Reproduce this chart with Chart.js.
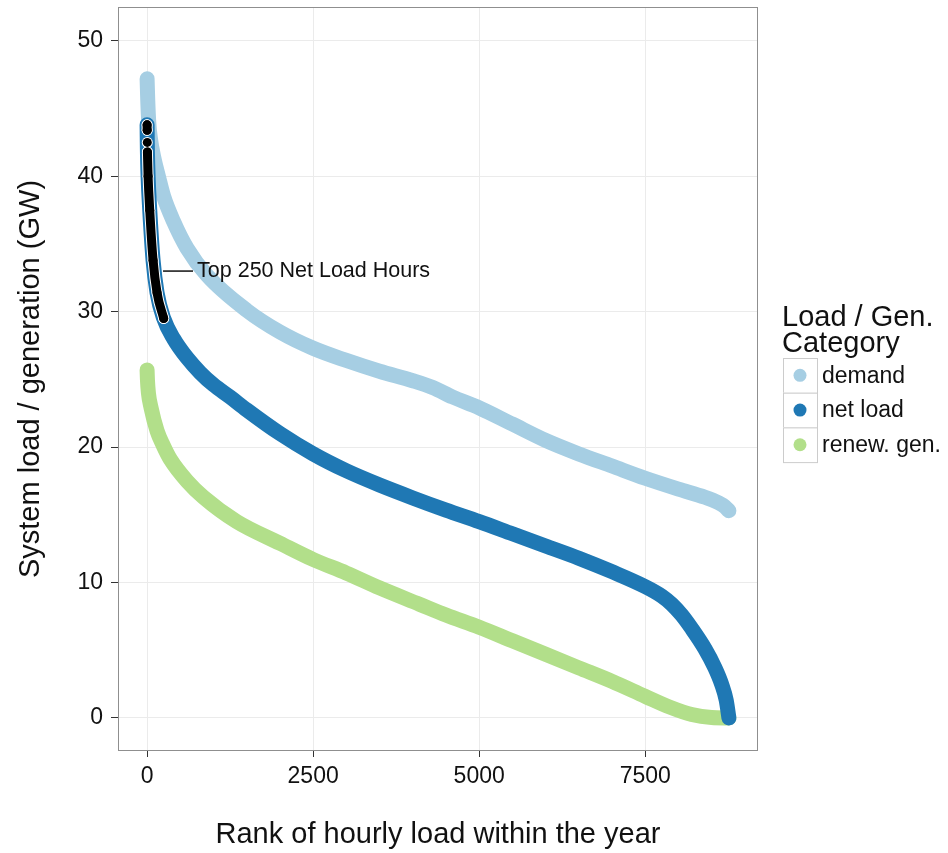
<!DOCTYPE html>
<html><head><meta charset="utf-8">
<script src="https://cdn.jsdelivr.net/npm/chart.js@4"></script>
<style>html,body{margin:0;padding:0;background:#fff;}#wrap{width:948px;height:853px;position:relative;}</style>
</head><body><div id="wrap"><canvas id="c" width="948" height="853"></canvas></div>
<script>
// ---- data ----
const seriesNames = ['demand', 'net load', 'renew. gen.'];

const demandRanks  = [0, 10, 25, 50, 100, 170, 250, 395, 600, 900, 1500, 2000, 2500, 3000, 3500, 4000, 4300, 4600, 5000, 5500, 6000, 6500, 7000, 7500, 8000, 8400, 8600, 8700, 8760];
const demandValues = [47.2, 45.6, 44.0, 42.8, 41.4, 40.0, 38.5, 36.7, 34.7, 32.7, 30.1, 28.5, 27.3, 26.4, 25.6, 24.9, 24.4, 23.7, 22.9, 21.7, 20.5, 19.5, 18.6, 17.7, 16.9, 16.3, 15.9, 15.6, 15.3];

const netRanks  = [0, 1, 3, 5, 15, 40, 90, 150, 250, 400, 600, 800, 1000, 1250, 1500, 2000, 2500, 3000, 3500, 4000, 4500, 5000, 5500, 6000, 6500, 7000, 7500, 7750, 7900, 8050, 8200, 8400, 8550, 8650, 8720, 8760];
const netValues = [43.8, 43.4, 42.5, 41.8, 40.0, 37.5, 33.8, 31.4, 29.5, 28.0, 26.6, 25.5, 24.6, 23.7, 22.75, 21.0, 19.5, 18.25, 17.2, 16.25, 15.35, 14.5, 13.6, 12.7, 11.8, 10.8, 9.7, 9.0, 8.4, 7.6, 6.6, 5.1, 3.7, 2.5, 1.3, 0.0];

const renewRanks  = [0, 5, 20, 60, 150, 245, 350, 600, 850, 1350, 2000, 2500, 3000, 3500, 4100, 4500, 5000, 5500, 6000, 6500, 7000, 7500, 7870, 8200, 8500, 8760];
const renewValues = [25.7, 25.0, 24.0, 22.9, 21.2, 20.1, 19.1, 17.5, 16.3, 14.5, 12.9, 11.7, 10.7, 9.6, 8.4, 7.6, 6.7, 5.7, 4.7, 3.7, 2.7, 1.6, 0.8, 0.25, 0.03, 0.0];

// top 250 net load hours (black highlight); null = visible gap between points
const top250Ranks  = [0, 1, 2, 3, 4, 5, 15, 40, 90, 150, 250];
const top250Values = [43.8, 43.4, null, 42.5, null, 41.8, 40.0, 37.5, 33.8, 31.4, 29.5];

const xTickValues = [0, 2500, 5000, 7500];
const yTickValues = [0, 10, 20, 30, 40, 50];
const xTitle = 'Rank of hourly load within the year';
const yTitle = 'System load / generation (GW)';
const legendTitle = ['Load / Gen.', 'Category'];
const annotationText = 'Top 250 Net Load Hours';
const annotationRank = 240;
const annotationValue = 33.0;

// ---- styling ----
const FONT = '"Liberation Sans", Arial, Helvetica, sans-serif';
const COLORS = ['#a6cee3', '#1f78b4', '#b2df8a'];
const BAND = 15;

function pts(r, v) { return r.map((x, i) => ({ x: x, y: v[i] })); }
function band(label, data, color, width, order, extra) {
  return Object.assign({
    label: label, data: data, borderColor: color, backgroundColor: color,
    borderWidth: width, pointRadius: 0, pointHoverRadius: 0,
    borderCapStyle: 'round', borderJoinStyle: 'round',
    cubicInterpolationMode: 'monotone', fill: false, spanGaps: false, order: order
  }, extra || {});
}

const overlayPlugin = {
  id: 'overlay',
  afterDraw(chart) {
    const ctx = chart.ctx, a = chart.chartArea;
    const xs = chart.scales.x, ys = chart.scales.y;
    ctx.save();
    // panel frame
    ctx.strokeStyle = '#8f8f8f';
    ctx.lineWidth = 1;
    ctx.strokeRect(Math.round(a.left) + 0.5, Math.round(a.top) + 0.5, Math.round(a.right - a.left) - 1, Math.round(a.bottom - a.top) - 1);
    // annotation
    const px = xs.getPixelForValue(annotationRank), py = ys.getPixelForValue(annotationValue);
    ctx.strokeStyle = '#111';
    ctx.lineWidth = 1.5;
    ctx.beginPath(); ctx.moveTo(px, py); ctx.lineTo(px + 30, py); ctx.stroke();
    ctx.fillStyle = '#111';
    ctx.font = '21.5px ' + FONT;
    ctx.textBaseline = 'middle';
    ctx.textAlign = 'left';
    ctx.fillText(annotationText, px + 34, py);
    // legend
    const lx = a.right + 24;
    ctx.font = '29px ' + FONT;
    ctx.textBaseline = 'alphabetic';
    ctx.fillText(legendTitle[0], lx, 326);
    ctx.fillText(legendTitle[1], lx, 352);
    const keyH = 34.7, keyTop = 358;
    for (let i = 0; i < seriesNames.length; i++) {
      const ky = keyTop + i * keyH;
      ctx.fillStyle = '#ffffff';
      ctx.fillRect(lx + 1, ky, 34, keyH);
      ctx.strokeStyle = '#cccccc';
      ctx.lineWidth = 1;
      ctx.strokeRect(lx + 1.5, ky + 0.5, 34, keyH);
      ctx.fillStyle = COLORS[i];
      ctx.beginPath(); ctx.arc(lx + 18, ky + keyH / 2, 6.5, 0, Math.PI * 2); ctx.fill();
      ctx.fillStyle = '#111';
      ctx.font = '23px ' + FONT;
      ctx.textBaseline = 'middle';
      ctx.fillText(seriesNames[i], lx + 40, ky + keyH / 2 + 1);
    }
    ctx.restore();
  }
};

const axisCommon = {
  type: 'linear',
  border: { display: false },
  ticks: { autoSkip: false, maxRotation: 0, minRotation: 0, color: '#111', font: { family: FONT, size: 23 }, callback: v => String(v) }
};

new Chart(document.getElementById('c'), {
  type: 'line',
  data: {
    datasets: [
      band(seriesNames[0], pts(demandRanks, demandValues), COLORS[0], BAND, 6),
      band(seriesNames[2], pts(renewRanks, renewValues), COLORS[2], BAND, 5),
      band(seriesNames[1], pts(netRanks, netValues), COLORS[1], BAND, 4),
      band('top250 halo', pts(top250Ranks, top250Values), '#ffffff', 11, 3, { pointRadius: 5.5, pointBackgroundColor: '#ffffff', pointBorderWidth: 0 }),
      band('top250', pts(top250Ranks, top250Values), '#000000', 9, 2, { pointRadius: 4.5, pointBackgroundColor: '#000000', pointBorderWidth: 0 })
    ]
  },
  options: {
    responsive: false, animation: false, devicePixelRatio: 1,
    events: [],
    layout: { padding: { left: 0, top: 7, right: 190, bottom: 0 } },
    plugins: { legend: { display: false }, tooltip: { enabled: false } },
    scales: {
      x: Object.assign({}, axisCommon, {
        min: -438, max: 9198,
        afterBuildTicks: s => { s.ticks = xTickValues.map(v => ({ value: v })); },
        afterFit: s => { s.height = 102; s.paddingLeft = 0; s.paddingRight = 0; },
        grid: { color: '#ebebeb', lineWidth: 1, tickColor: '#333', tickLength: 6, drawTicks: true },
        ticks: Object.assign({}, axisCommon.ticks, { padding: 6 }),
        title: { display: true, text: xTitle, color: '#111', font: { family: FONT, size: 29 }, padding: { top: 0, bottom: 1 } }
      }),
      y: Object.assign({}, axisCommon, {
        min: -2.44, max: 52.5,
        afterBuildTicks: s => { s.ticks = yTickValues.map(v => ({ value: v })); },
        afterFit: s => { s.width = 118; s.paddingTop = 0; s.paddingBottom = 0; },
        grid: { color: '#ebebeb', lineWidth: 1, tickColor: '#333', tickLength: 7, drawTicks: true },
        ticks: Object.assign({}, axisCommon.ticks, { padding: 8 }),
        title: { display: true, text: yTitle, color: '#111', font: { family: FONT, size: 29 }, padding: { top: 14, bottom: 0 } }
      })
    }
  },
  plugins: [overlayPlugin]
});
</script></body></html>
